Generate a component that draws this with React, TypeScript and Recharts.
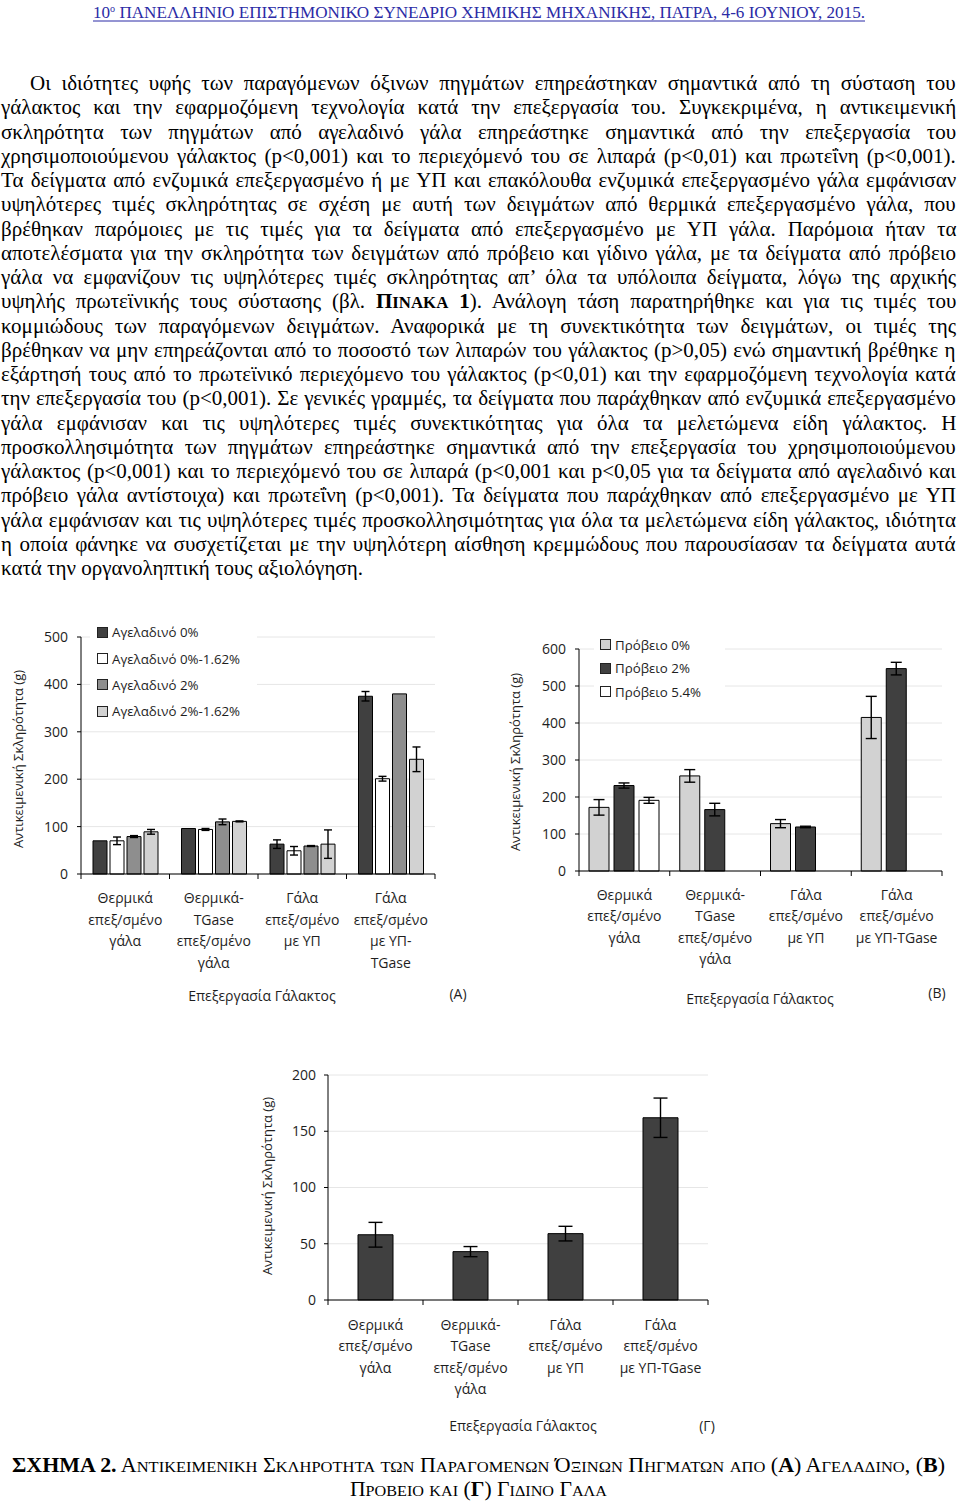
import React, { useLayoutEffect, useRef, useState } from "react";
import { BarChart, Bar, XAxis, YAxis, CartesianGrid, ErrorBar, Legend } from "recharts";

const SERIF = "'Liberation Serif', 'DejaVu Serif', serif";
const SANS = "'Open Sans', 'Noto Sans', sans-serif";
const INK = "#1e1e1e";
const SX = 1;

const headerText = " ΠΑΝΕΛΛΗΝΙΟ ΕΠΙΣΤΗΜΟΝΙΚΟ ΣΥΝΕΔΡΙΟ ΧΗΜΙΚΗΣ ΜΗΧΑΝΙΚΗΣ, ΠΑΤΡΑ, 4-6 ΙΟΥΝΙΟΥ, 2015.";

const paragraphLines = [
  "Οι ιδιότητες υφής των παραγόμενων όξινων πηγμάτων επηρεάστηκαν σημαντικά από τη σύσταση του",
  "γάλακτος και την εφαρμοζόμενη τεχνολογία κατά την επεξεργασία του. Συγκεκριμένα, η αντικειμενική",
  "σκληρότητα των πηγμάτων από αγελαδινό γάλα επηρεάστηκε σημαντικά από την επεξεργασία του",
  "χρησιμοποιούμενου γάλακτος (p<0,001) και το περιεχόμενό του σε λιπαρά (p<0,01) και πρωτεΐνη (p<0,001).",
  "Τα δείγματα από ενζυμικά επεξεργασμένο ή με ΥΠ και επακόλουθα ενζυμικά επεξεργασμένο γάλα εμφάνισαν",
  "υψηλότερες τιμές σκληρότητας σε σχέση με αυτή των δειγμάτων από θερμικά επεξεργασμένο γάλα, που",
  "βρέθηκαν παρόμοιες με τις τιμές για τα δείγματα από επεξεργασμένο με ΥΠ γάλα. Παρόμοια ήταν τα",
  "αποτελέσματα για την σκληρότητα των δειγμάτων από πρόβειο και γίδινο γάλα, με τα δείγματα από πρόβειο",
  "γάλα να εμφανίζουν τις υψηλότερες τιμές σκληρότητας απ’ όλα τα υπόλοιπα δείγματα, λόγω της αρχικής",
  "υψηλής πρωτεϊνικής τους σύστασης (βλ. ΠΙΝΑΚΑ 1). Ανάλογη τάση παρατηρήθηκε και για τις τιμές του",
  "κομμιώδους των παραγόμενων δειγμάτων. Αναφορικά με τη συνεκτικότητα των δειγμάτων, οι τιμές της",
  "βρέθηκαν να μην επηρεάζονται από το ποσοστό των λιπαρών του γάλακτος (p>0,05) ενώ σημαντική βρέθηκε η",
  "εξάρτησή τους από το πρωτεϊνικό περιεχόμενο του γάλακτος (p<0,01) και την εφαρμοζόμενη τεχνολογία κατά",
  "την επεξεργασία του (p<0,001). Σε γενικές γραμμές, τα δείγματα που παράχθηκαν από ενζυμικά επεξεργασμένο",
  "γάλα εμφάνισαν και τις υψηλότερες τιμές συνεκτικότητας για όλα τα μελετώμενα είδη γάλακτος. Η",
  "προσκολλησιμότητα των πηγμάτων επηρεάστηκε σημαντικά από την επεξεργασία του χρησιμοποιούμενου",
  "γάλακτος (p<0,001) και το περιεχόμενό του σε λιπαρά (p<0,001 και p<0,05 για τα δείγματα από αγελαδινό και",
  "πρόβειο γάλα αντίστοιχα) και πρωτεΐνη (p<0,001). Τα δείγματα που παράχθηκαν από επεξεργασμένο με ΥΠ",
  "γάλα εμφάνισαν και τις υψηλότερες τιμές προσκολλησιμότητας για όλα τα μελετώμενα είδη γάλακτος, ιδιότητα",
  "η οποία φάνηκε να συσχετίζεται με την υψηλότερη αίσθηση κρεμμώδους που παρουσίασαν τα δείγματα αυτά",
  "κατά την οργανοληπτική τους αξιολόγηση.",
];

// categories (line breaks as in the figure)
const catA = [
  "Θερμικά\nεπεξ/σμένο\nγάλα",
  "Θερμικά-\nTGase\nεπεξ/σμένο\nγάλα",
  "Γάλα\nεπεξ/σμένο\nμε ΥΠ",
  "Γάλα\nεπεξ/σμένο\nμε ΥΠ-\nTGase",
];
const catBC = [
  "Θερμικά\nεπεξ/σμένο\nγάλα",
  "Θερμικά-\nTGase\nεπεξ/σμένο\nγάλα",
  "Γάλα\nεπεξ/σμένο\nμε ΥΠ",
  "Γάλα\nεπεξ/σμένο\nμε ΥΠ-TGase",
];

// (A) cow milk
const namesA = ["Αγελαδινό 0%", "Αγελαδινό 0%-1.62%", "Αγελαδινό 2%", "Αγελαδινό 2%-1.62%"];
const cow0 = [70, 96, 63, 375];
const cow0Err = [0, 0, 9, 10];
const cow0L = [70, 94, 49, 201];
const cow0LErr = [8, 2, 9, 5];
const cow2 = [79, 110, 59, 380];
const cow2Err = [2, 6, 1, 0];
const cow2L = [89, 111, 63, 242];
const cow2LErr = [5, 1, 30, 26];
const ticksA = [0, 100, 200, 300, 400, 500];

// (B) sheep milk
const namesB = ["Πρόβειο 0%", "Πρόβειο 2%", "Πρόβειο 5.4%"];
const sheep0 = [172, 257, 128, 415];
const sheep0Err = [21, 17, 11, 57];
const sheep2 = [231, 166, 119, 547];
const sheep2Err = [7, 17, 2, 17];
const sheep54 = [191, null, null, null];
const sheep54Err = [8, null, null, null];
const ticksB = [0, 100, 200, 300, 400, 500, 600];

// (Γ) goat milk
const goat = [58, 43, 59, 162];
const goatErr = [11, 4.5, 6.5, 17.5];
const ticksC = [0, 50, 100, 150, 200];

const dataA = catA.map((cat, i) => ({
  cat,
  cow0: cow0[i], cow0Err: cow0Err[i],
  cow0L: cow0L[i], cow0LErr: cow0LErr[i],
  cow2: cow2[i], cow2Err: cow2Err[i],
  cow2L: cow2L[i], cow2LErr: cow2LErr[i],
}));
const dataB = catBC.map((cat, i) => ({
  cat,
  sheep0: sheep0[i], sheep0Err: sheep0Err[i],
  sheep2: sheep2[i], sheep2Err: sheep2Err[i],
  sheep54: sheep54[i], sheep54Err: sheep54Err[i],
}));
const dataC = catBC.map((cat, i) => ({ cat, goat: goat[i], goatErr: goatErr[i] }));

const DARK = "#404040";
const MID = "#8e8e8e";
const LIGHT = "#d2d2d2";

function JustLine({ left, top, width, justify, children }: any) {
  const ref = useRef<HTMLSpanElement>(null);
  const [fit, setFit] = useState({ sx: SX, ws: 0 });
  useLayoutEffect(() => {
    const el = ref.current;
    if (!el) return;
    const natural = el.offsetWidth;
    const spaces = (el.textContent || "").split(" ").length - 1;
    if (natural * SX >= width || !justify) {
      setFit({ sx: Math.min(SX, width / natural), ws: 0 });
    } else {
      setFit({ sx: SX, ws: (width / SX - natural) / Math.max(1, spaces) });
    }
  }, []);
  return (
    <div style={{ position: "absolute", left, top, height: 24, lineHeight: "24px", whiteSpace: "nowrap",
      transform: `scaleX(${fit.sx})`, transformOrigin: "0 0", fontFamily: SERIF, fontSize: 21, color: "#000" }}>
      <span ref={ref} style={{ wordSpacing: fit.ws }}>{children}</span>
    </div>
  );
}

function renderLine(line: string) {
  const k = "ΠΙΝΑΚΑ 1";
  const at = line.indexOf(k);
  if (at < 0) return line;
  return (
    <>
      {line.slice(0, at)}
      <b>Π<span style={{ fontSize: "0.8em" }}>ΙΝΑΚΑ</span> 1</b>
      {line.slice(at + k.length)}
    </>
  );
}

const strip = (s: string) => s.normalize("NFD").replace(/[\u0300-\u036f]/g, "").normalize("NFC");

function smallCaps(text: string, big: number, small: number) {
  const runs: { s: string; big: boolean }[] = [];
  for (const ch of text) {
    const isBig = ch === ch.toUpperCase();
    const last = runs[runs.length - 1];
    if (last && last.big === isBig) last.s += ch;
    else runs.push({ s: ch, big: isBig });
  }
  return runs.map((r, i) => (
    <tspan key={i} fontSize={r.big ? big : small}>{r.big ? r.s : strip(r.s.toUpperCase())}</tspan>
  ));
}

const CategoryTick = ({ x, y, payload, index, band, n, first, step }: any) => {
  const lines = String(payload.value).split("\n");
  return (
    <g>
      <line x1={x - band / 2} x2={x - band / 2} y1={y} y2={y + 5} stroke="#000" />
      {index === n - 1 && <line x1={x + band / 2} x2={x + band / 2} y1={y} y2={y + 5} stroke="#000" />}
      <text x={x} y={y + first} textAnchor="middle" fontFamily={SANS} fontSize={14} fill={INK}>
        {lines.map((l, i) => (
          <tspan key={i} x={x} dy={i === 0 ? 0 : step}>{l}</tspan>
        ))}
      </text>
    </g>
  );
};

const LegendBox = ({ payload, names, rowH }: any) => {
  const items = [...(payload || [])].sort((a: any, b: any) => names.indexOf(a.value) - names.indexOf(b.value));
  return (
    <div>
      {items.map((p: any) => (
        <div key={p.value} style={{ height: rowH, display: "flex", alignItems: "center", fontFamily: SANS, fontSize: 13.3, color: INK, whiteSpace: "nowrap" }}>
          <span style={{ width: 9, height: 9, background: p.color, border: "1px solid #222", marginRight: 4, flex: "none" }} />
          <span>{p.value}</span>
        </div>
      ))}
    </div>
  );
};

const Title = ({ x, y, size = 14, children }: any) => (
  <div style={{ position: "absolute", left: x, top: y, transform: "translate(-50%, -50%)", fontFamily: SANS, fontSize: size, color: INK, whiteSpace: "nowrap" }}>
    {children}
  </div>
);

const VTitle = ({ x, y, children }: any) => (
  <div style={{ position: "absolute", left: x, top: y, transform: "translate(-50%, -50%) rotate(-90deg)", fontFamily: SANS, fontSize: 13, color: INK, whiteSpace: "nowrap" }}>
    {children}
  </div>
);

const yTick = { fontSize: 14, fill: INK, fontFamily: SANS };
const axisStroke = { stroke: "#000" };

export default function App() {
  return (
    <div style={{ position: "absolute", left: 0, top: 0, width: 960, height: 1503, background: "#fff", overflow: "hidden" }}>
      <svg style={{ position: "absolute", left: 0, top: 0 }} width={960} height={26}>
        <text x={93} y={18} textLength={772} lengthAdjust="spacingAndGlyphs" fontFamily={SERIF} fontSize={17} fill="#2b2ba6">
          10<tspan dy={-6} fontSize={10}>ο</tspan><tspan dy={6}>{headerText}</tspan>
        </text>
        <line x1={93} x2={865} y1={21} y2={21} stroke="#2b2ba6" strokeWidth={1} />
      </svg>

      {paragraphLines.map((line, i) => {
        const left = i === 0 ? 30 : 1;
        return (
          <JustLine key={i} left={left} top={71 + i * 24.25} width={956 - left} justify={i < paragraphLines.length - 1}>
            {renderLine(line)}
          </JustLine>
        );
      })}

      {/* (A) */}
      <div style={{ position: "absolute", left: 0, top: 620 }}>
        <BarChart width={470} height={390} data={dataA} margin={{ top: 17, right: 35, bottom: 36, left: 31 }} barCategoryGap={12} barGap={3}>
          <CartesianGrid vertical={false} stroke="#e6e6e6" />
          <XAxis dataKey="cat" height={100} interval={0} axisLine={axisStroke} tickLine={false} tickSize={0} tickMargin={0}
            tick={(p: any) => <CategoryTick {...p} band={88.5} n={4} first={29} step={21.5} />} />
          <YAxis width={50} domain={[0, 500]} ticks={ticksA} interval={0} axisLine={axisStroke} tickLine={axisStroke} tickSize={4} tickMargin={9} tick={yTick} />
          <Legend layout="vertical" align="center" verticalAlign="middle"
            wrapperStyle={{ left: 90, top: -1, width: 160, paddingLeft: 7, backgroundColor: "#fff" }}
            content={(p: any) => <LegendBox payload={p.payload} names={namesA} rowH={26.4} />} />
          <Bar dataKey="cow0" name={namesA[0]} fill={DARK} stroke="#000" strokeWidth={1} isAnimationActive={false}>
            <ErrorBar dataKey="cow0Err" direction="y" width={4} stroke="#000" strokeWidth={1.4} />
          </Bar>
          <Bar dataKey="cow0L" name={namesA[1]} fill="#fff" stroke="#000" strokeWidth={1} isAnimationActive={false}>
            <ErrorBar dataKey="cow0LErr" direction="y" width={4} stroke="#000" strokeWidth={1.4} />
          </Bar>
          <Bar dataKey="cow2" name={namesA[2]} fill={MID} stroke="#000" strokeWidth={1} isAnimationActive={false}>
            <ErrorBar dataKey="cow2Err" direction="y" width={4} stroke="#000" strokeWidth={1.4} />
          </Bar>
          <Bar dataKey="cow2L" name={namesA[3]} fill={LIGHT} stroke="#000" strokeWidth={1} isAnimationActive={false}>
            <ErrorBar dataKey="cow2LErr" direction="y" width={4} stroke="#000" strokeWidth={1.4} />
          </Bar>
        </BarChart>
      </div>
      <VTitle x={18} y={759}>Αντικειμενική Σκληρότητα (g)</VTitle>
      <Title x={262} y={995}>Επεξεργασία Γάλακτος</Title>
      <Title x={458} y={993}>(A)</Title>

      {/* (B) */}
      <div style={{ position: "absolute", left: 490, top: 630 }}>
        <BarChart width={470} height={380} data={dataB} margin={{ top: 19, right: 18, bottom: 39, left: 39 }} barCategoryGap={10} barGap={5}>
          <CartesianGrid vertical={false} stroke="#e6e6e6" />
          <XAxis dataKey="cat" height={100} interval={0} axisLine={axisStroke} tickLine={false} tickSize={0} tickMargin={0}
            tick={(p: any) => <CategoryTick {...p} band={90.75} n={4} first={29} step={21.3} />} />
          <YAxis width={50} domain={[0, 600]} ticks={ticksB} interval={0} axisLine={axisStroke} tickLine={axisStroke} tickSize={4} tickMargin={9} tick={yTick} />
          <Legend layout="vertical" align="center" verticalAlign="middle"
            wrapperStyle={{ left: 104, top: 3, width: 125, paddingLeft: 6, backgroundColor: "#fff" }}
            content={(p: any) => <LegendBox payload={p.payload} names={namesB} rowH={23.5} />} />
          <Bar dataKey="sheep0" name={namesB[0]} fill={LIGHT} stroke="#000" strokeWidth={1} isAnimationActive={false}>
            <ErrorBar dataKey="sheep0Err" direction="y" width={5.5} stroke="#000" strokeWidth={1.4} />
          </Bar>
          <Bar dataKey="sheep2" name={namesB[1]} fill={DARK} stroke="#000" strokeWidth={1} isAnimationActive={false}>
            <ErrorBar dataKey="sheep2Err" direction="y" width={5.5} stroke="#000" strokeWidth={1.4} />
          </Bar>
          <Bar dataKey="sheep54" name={namesB[2]} fill="#fff" stroke="#000" strokeWidth={1} isAnimationActive={false}>
            <ErrorBar dataKey="sheep54Err" direction="y" width={5.5} stroke="#000" strokeWidth={1.4} />
          </Bar>
        </BarChart>
      </div>
      <VTitle x={515} y={762}>Αντικειμενική Σκληρότητα (g)</VTitle>
      <Title x={760} y={998}>Επεξεργασία Γάλακτος</Title>
      <Title x={937} y={992}>(B)</Title>

      {/* (Γ) */}
      <div style={{ position: "absolute", left: 240, top: 1060 }}>
        <BarChart width={480} height={380} data={dataC} margin={{ top: 15, right: 12, bottom: 40, left: 38 }} barCategoryGap={30}>
          <CartesianGrid vertical={false} stroke="#e6e6e6" />
          <XAxis dataKey="cat" height={100} interval={0} axisLine={axisStroke} tickLine={false} tickSize={0} tickMargin={0}
            tick={(p: any) => <CategoryTick {...p} band={95} n={4} first={30} step={21.3} />} />
          <YAxis width={50} domain={[0, 200]} ticks={ticksC} interval={0} axisLine={axisStroke} tickLine={axisStroke} tickSize={4} tickMargin={8} tick={yTick} />
          <Bar dataKey="goat" fill={DARK} stroke="#000" strokeWidth={1} isAnimationActive={false}>
            <ErrorBar dataKey="goatErr" direction="y" width={7} stroke="#000" strokeWidth={1.4} />
          </Bar>
        </BarChart>
      </div>
      <VTitle x={267} y={1186}>Αντικειμενική Σκληρότητα (g)</VTitle>
      <Title x={523} y={1425}>Επεξεργασία Γάλακτος</Title>
      <Title x={707} y={1425}>(Γ)</Title>

      <svg style={{ position: "absolute", left: 0, top: 1440 }} width={960} height={63}>
        <text x={12} y={32} textLength={933} lengthAdjust="spacingAndGlyphs" fontFamily={SERIF} fill="#000">
          <tspan fontWeight="bold" fontSize={20}>ΣΧΗΜΑ 2.</tspan>
          {smallCaps(" Αντικειμενική Σκληρότητα των Παραγόμενων Όξινων Πηγμάτων από (", 20, 15)}
          <tspan fontWeight="bold" fontSize={20}>Α</tspan>
          {smallCaps(") Αγελαδινό, (", 20, 15)}
          <tspan fontWeight="bold" fontSize={20}>Β</tspan>
          <tspan fontSize={20}>)</tspan>
        </text>
        <text x={350} y={56} textLength={257} lengthAdjust="spacingAndGlyphs" fontFamily={SERIF} fill="#000">
          {smallCaps("Πρόβειο και (", 20, 15)}
          <tspan fontWeight="bold" fontSize={20}>Γ</tspan>
          {smallCaps(") Γίδινο Γάλα", 20, 15)}
        </text>
      </svg>
    </div>
  );
}
